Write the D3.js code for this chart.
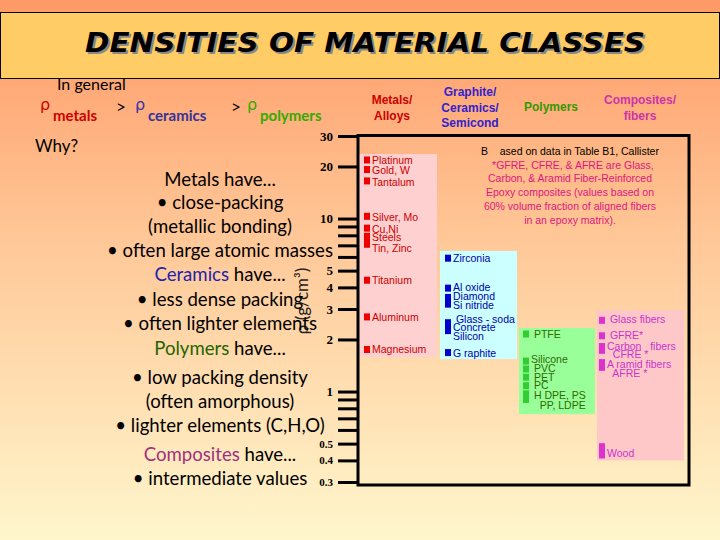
<!DOCTYPE html>
<html>
<head>
<meta charset="utf-8">
<script src="https://cdn.jsdelivr.net/npm/d3@7"></script>
<style>
  body { margin: 0; }
  text { white-space: pre; }
</style>
</head>
<body>
<div id="chart"></div>
<script>
// categories (column headers)
const categories = ["metals", "ceramics", "polymers", "composites"];
const headerLines = [["Metals/", "Alloys"], ["Graphite/", "Ceramics/", "Semicond"], ["Polymers"], ["Composites/", "fibers"]];

// density extent (g/cm3) covered by each shaded column
const boxHigh = [23.6, 6.5, 2.33, 2.96];
const boxLow = [1.58, 1.54, 0.74, 0.40];

// axis ticks
const tickVals = [0.3, 0.4, 0.5, 0.6, 0.7, 0.8, 0.9, 1, 2, 3, 4, 5, 6, 7, 8, 9, 10, 20, 30];
const tickLabels = [0.3, 0.4, 0.5, 1, 2, 3, 4, 5, 10, 20, 30];

// markers: density ranges (low, high)
const metalLo = [21.8, 19.2, 16.5, 10.3, 8.8, 7.7, 7.1, 4.4, 2.7, 1.75];
const metalHi = [21.8, 19.2, 16.5, 10.3, 8.8, 7.9, 7.2, 4.4, 2.7, 1.75];
const ceramicLo = [5.9, 3.96, 3.2, 2.25, 1.68];
const ceramicHi = [5.9, 3.96, 3.5, 2.5, 1.68];
const polymerLo = [2.15, 1.5, 1.35, 1.21, 1.08, 0.97, 0.9];
const polymerHi = [2.15, 1.5, 1.35, 1.21, 1.08, 0.97, 0.9];
const compositeLo = [2.58, 2.1, 1.73, 1.38, 0.43];
const compositeHi = [2.58, 2.1, 1.82, 1.47, 0.48];

// labels and the density they sit at
const metalNames = ["Platinum", "Gold, W", "Tantalum", "Silver, Mo", "Cu,Ni", "Steels", "Tin, Zinc", "Titanium", "Aluminum", "Magnesium"];
const metalAt = [21.8, 19.0, 16.3, 10.2, 8.7, 7.75, 6.75, 4.4, 2.7, 1.75];
const ceramicNames = ["Zirconia", "Al oxide", "Diamond", "Si nitride", " Glass - soda", "Concrete", "Silicon", "G raphite"];
const ceramicAt = [5.9, 4.02, 3.56, 3.17, 2.62, 2.36, 2.09, 1.67];
const polymerNames = [" PTFE", "Silicone", " PVC", " PET", " PC", " H DPE, PS", "   PP, LDPE"];
const polymerAt = [2.15, 1.54, 1.37, 1.21, 1.08, 0.955, 0.83];
const compositeNames = [" Glass fibers", " GFRE*", "Carbon   fibers", "  CFRE *", "A ramid fibers", "  AFRE *", "Wood"];
const compositeAt = [2.6, 2.1, 1.83, 1.65, 1.44, 1.28, 0.44];

const noteLines = ["B    ased on data in Table B1, Callister", "  *GFRE, CFRE, & AFRE are Glass,", "Carbon, & Aramid Fiber-Reinforced",
  "Epoxy composites (values based on", "60% volume fraction of aligned fibers", "in an epoxy matrix)."];

const W = 720, H = 540;
const svg = d3.select("#chart").append("svg").attr("width", W).attr("height", H);

const defs = svg.append("defs");
const grad = defs.append("linearGradient").attr("id", "bg").attr("x1", 0).attr("y1", 0).attr("x2", 0).attr("y2", 1);
grad.append("stop").attr("offset", "0%").attr("stop-color", "#ff9966");
grad.append("stop").attr("offset", "45%").attr("stop-color", "#ffc898");
grad.append("stop").attr("offset", "100%").attr("stop-color", "#fff6cc");
svg.append("rect").attr("width", W).attr("height", H).attr("fill", "url(#bg)");

// title band
svg.append("rect").attr("x", 0.5).attr("y", 12.5).attr("width", W - 1).attr("height", 66)
  .attr("fill", "#ffcc66").attr("stroke", "#000").attr("stroke-width", 1);
const titleText = "DENSITIES OF MATERIAL CLASSES";
svg.append("text").attr("x", 367).attr("y", 54).attr("text-anchor", "middle")
  .attr("font-family", "DejaVu Sans").attr("font-weight", "bold").attr("font-style", "italic")
  .attr("font-size", 27).attr("fill", "#888").attr("textLength", 560).attr("lengthAdjust", "spacingAndGlyphs")
  .text(titleText);
svg.append("text").attr("x", 365).attr("y", 52).attr("text-anchor", "middle")
  .attr("font-family", "DejaVu Sans").attr("font-weight", "bold").attr("font-style", "italic")
  .attr("font-size", 27).attr("fill", "#000").attr("textLength", 560).attr("lengthAdjust", "spacingAndGlyphs")
  .text(titleText);

// scales
const y = d3.scaleLog().domain([0.3, 30]).range([482, 136]);
const boxX = d3.scaleOrdinal(categories, [359, 440, 519, 597]);
const boxW = d3.scaleOrdinal(categories, [78, 77, 76, 87]);
const boxFill = d3.scaleOrdinal(categories, ["#ffd0d0", "#ccffff", "#99ff99", "#ffc8c8"]);
const markX = d3.scaleOrdinal(categories, [364, 445, 523, 599]);
const textX = d3.scaleOrdinal(categories, [372, 453, 531, 607]);
const headX = d3.scaleOrdinal(categories, [392, 470, 551, 640]);
const headCol = d3.scaleOrdinal(categories, ["#cc0000", "#3322cc", "#339900", "#cc33aa"]);
const markCol = d3.scaleOrdinal(categories, ["#ee0000", "#0000cc", "#33cc33", "#dd33cc"]);
const textCol = d3.scaleOrdinal(categories, ["#cc0000", "#0000aa", "#2f6a00", "#cc33cc"]);

// shaded columns
svg.append("g").selectAll("rect").data(categories).join("rect")
  .attr("x", d => boxX(d)).attr("width", d => boxW(d))
  .attr("y", (d, i) => y(boxHigh[i])).attr("height", (d, i) => y(boxLow[i]) - y(boxHigh[i]))
  .attr("fill", d => boxFill(d));

// headers
categories.forEach((c, i) => {
  const lines = headerLines[i];
  const t = svg.append("text").attr("text-anchor", "middle").attr("font-family", "Liberation Sans")
    .attr("font-weight", "bold").attr("font-size", 12).attr("fill", headCol(c));
  const y0 = lines.length === 3 ? 96 : lines.length === 2 ? 104 : 111;
  lines.forEach((l, j) => t.append("tspan").attr("x", headX(c)).attr("y", y0 + j * 15.5).text(l));
});

// markers + labels per class
const groups = [
  {c: "metals", lo: metalLo, hi: metalHi, names: metalNames, at: metalAt},
  {c: "ceramics", lo: ceramicLo, hi: ceramicHi, names: ceramicNames, at: ceramicAt},
  {c: "polymers", lo: polymerLo, hi: polymerHi, names: polymerNames, at: polymerAt},
  {c: "composites", lo: compositeLo, hi: compositeHi, names: compositeNames, at: compositeAt}
];
groups.forEach(g => {
  svg.append("g").selectAll("rect").data(g.lo).join("rect")
    .attr("x", markX(g.c)).attr("width", 6)
    .attr("y", (d, i) => y(g.hi[i]) - 3.5)
    .attr("height", (d, i) => y(d) - y(g.hi[i]) + 7)
    .attr("fill", markCol(g.c));
  svg.append("g").selectAll("text").data(g.names).join("text")
    .attr("x", textX(g.c)).attr("y", (d, i) => y(g.at[i]))
    .attr("dy", "0.35em").attr("font-family", "Liberation Sans").attr("font-size", 10.5)
    .attr("fill", textCol(g.c)).text(d => d);
});

// axis
const axis = d3.axisLeft(y).tickValues(tickVals).tickSize(20).tickPadding(5)
  .tickFormat(d => tickLabels.includes(d) ? String(d) : "");
const ax = svg.append("g").attr("transform", "translate(358,0)").call(axis);
ax.select(".domain").remove();
ax.selectAll(".tick line").attr("stroke", "#000").attr("stroke-width", 3);
ax.selectAll(".tick text").attr("font-family", "Liberation Serif").attr("font-weight", "bold")
  .attr("font-size", d => d < 1 ? 11 : 13).attr("fill", "#000");

// frame
svg.append("rect").attr("x", 358).attr("y", 135.5).attr("width", 331).attr("height", 349.5)
  .attr("fill", "none").attr("stroke", "#000").attr("stroke-width", 3);

// axis title
svg.append("text").attr("transform", "translate(308,301) rotate(-90)").attr("text-anchor", "middle")
  .attr("font-family", "Lato").attr("font-size", 17).attr("fill", "#222").text("ρ (g/cm³)");

// note
const note = svg.append("g").attr("font-family", "Liberation Sans").attr("font-size", 10.5).attr("text-anchor", "middle");
noteLines.forEach((l, i) => note.append("text").attr("x", 570).attr("y", 151 + i * 13.9).attr("dy", "0.35em")
  .attr("fill", i === 0 ? "#000" : "#e0177f").text(l));

// left side text
svg.append("text").attr("x", 57).attr("y", 90).attr("font-family", "Lato").attr("font-size", 16).attr("fill", "#000").text("In general");
const rhoLine = [
  {x: 40, rho: "#cc0000", w: "metals", col: "#cc0000"},
  {x: 135, rho: "#3333aa", w: "ceramics", col: "#333399"},
  {x: 247, rho: "#33aa00", w: "polymers", col: "#33aa00"}
];
rhoLine.forEach(r => {
  svg.append("text").attr("x", r.x).attr("y", 110).attr("font-family", "DejaVu Sans").attr("font-size", 16)
    .attr("fill", r.rho).text("ρ");
  svg.append("text").attr("x", r.x + 13).attr("y", 121).attr("font-family", "Lato").attr("font-weight", "bold")
    .attr("font-size", 15).attr("fill", r.col).text(r.w);
});
[116, 231].forEach(x => svg.append("text").attr("x", x).attr("y", 113).attr("font-family", "Lato")
  .attr("font-size", 17).attr("fill", "#000").text(">"));
svg.append("text").attr("x", 35).attr("y", 152).attr("font-family", "Lato").attr("font-size", 17).attr("fill", "#000").text("Why?");

const bodyLines = [
  [["Metals have...", "#000"]],
  [["• close-packing", "#000"]],
  [["(metallic bonding)", "#000"]],
  [["• often large atomic masses", "#000"]],
  [["Ceramics", "#2222aa"], [" have...", "#000"]],
  [["• less dense packing", "#000"]],
  [["• often lighter elements", "#000"]],
  [["Polymers", "#226600"], [" have...", "#000"]],
  [["• low packing density", "#000"]],
  [["(often amorphous)", "#000"]],
  [["• lighter elements (C,H,O)", "#000"]],
  [["Composites", "#a0307f"], [" have...", "#000"]],
  [["• intermediate values", "#000"]]
];
const bodyY = [186, 209, 233, 257, 281, 306, 330, 355, 384, 408, 432, 461, 485];
bodyLines.forEach((parts, i) => {
  const t = svg.append("text").attr("x", 220).attr("y", bodyY[i]).attr("text-anchor", "middle")
    .attr("font-family", "Lato").attr("font-size", 18.6);
  parts.forEach(p => t.append("tspan").attr("fill", p[1]).text(p[0]));
});
</script>
</body>
</html>
